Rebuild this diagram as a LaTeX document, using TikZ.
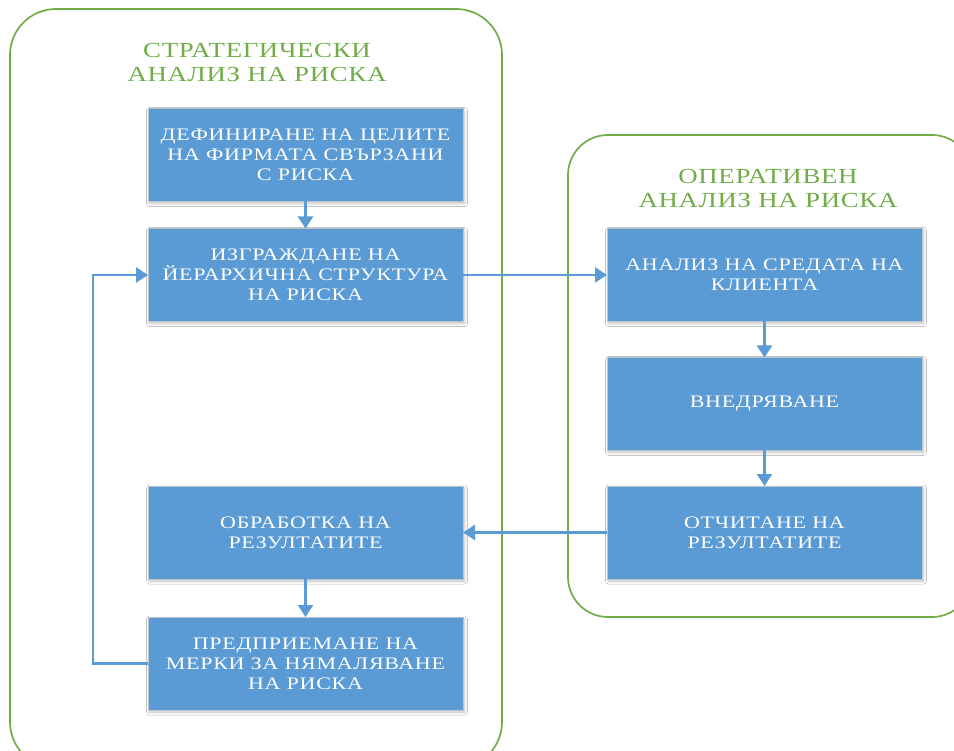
\documentclass[tikz,border=0pt]{standalone}
\usepackage{fontspec}
\usetikzlibrary{arrows.meta,shadows.blur}
\newfontfamily\boxfont[LetterSpace=4,FakeStretch=1.25]{Liberation Serif}
\newfontfamily\titlefont[LetterSpace=3,FakeStretch=1.25]{Liberation Serif}
\definecolor{boxblue}{HTML}{5B9BD5}
\definecolor{framegreen}{HTML}{70AD47}
\definecolor{boxedge}{HTML}{B8C4D0}
\tikzset{
  panel/.style={draw=framegreen, line width=1.7pt},
  paneltitle/.style={text=framegreen, align=center, font=\titlefont\fontsize{21.5}{24}\selectfont},
  stepbox/.style={fill=boxblue, draw=boxedge, line width=1pt, text=white,
    minimum width=315pt, minimum height=93pt, inner sep=0pt, outer sep=0pt,
    align=center, font=\boxfont\fontsize{17.6}{20}\selectfont,
    blur shadow={shadow xshift=1.5pt, shadow yshift=-2pt, shadow blur radius=3pt, shadow opacity=25}},
  conn/.style={draw=boxblue, line width=2.5pt, -{Triangle[width=15pt,length=12pt]}}
}
\begin{document}
\begin{tikzpicture}[x=1pt,y=-1pt]
  \useasboundingbox (0,0) rectangle (954,751);
  \clip (0,0) rectangle (954,751);
  \fill[white] (0,0) rectangle (954,751);

  % group frames
  \draw[panel, rounded corners=46pt] (10,9) rectangle (502,768);
  \draw[panel, rounded corners=40pt] (568,135) rectangle (972,617);

  \node[paneltitle] (tleft) at (257,62) {СТРАТЕГИЧЕСКИ\\АНАЛИЗ НА РИСКА};
  \node[paneltitle] (tright) at (768,188) {ОПЕРАТИВЕН\\АНАЛИЗ НА РИСКА};

  % strategic steps
  \node[stepbox] (b1) at (305.5,155) {ДЕФИНИРАНЕ НА ЦЕЛИТЕ\\НА ФИРМАТА СВЪРЗАНИ\\С РИСКА};
  \node[stepbox] (b2) at (305.5,275) {ИЗГРАЖДАНЕ НА\\ЙЕРАРХИЧНА СТРУКТУРА\\НА РИСКА};
  \node[stepbox] (b3) at (305.5,532.5) {ОБРАБОТКА НА\\РЕЗУЛТАТИТЕ};
  \node[stepbox] (b4) at (305.5,663.5) {ПРЕДПРИЕМАНЕ НА\\МЕРКИ ЗА НЯМАЛЯВАНЕ\\НА РИСКА};

  % operative steps
  \node[stepbox] (r1) at (764.5,275) {АНАЛИЗ НА СРЕДАТА НА\\КЛИЕНТА};
  \node[stepbox] (r2) at (764.5,404) {ВНЕДРЯВАНЕ};
  \node[stepbox] (r3) at (764.5,532.5) {ОТЧИТАНЕ НА\\РЕЗУЛТАТИТЕ};

  % connectors
  \draw[conn] (b1) -- (b2);
  \draw[conn] (b2.east) -- (r1.west);
  \draw[conn] (r1) -- (r2);
  \draw[conn] (r2) -- (r3);
  \draw[conn] (r3.west) -- (b3.east);
  \draw[conn] (b3) -- (b4);
  \draw[conn] (b4.west) -- ++(-55,0) |- (b2.west);
\end{tikzpicture}
\end{document}
